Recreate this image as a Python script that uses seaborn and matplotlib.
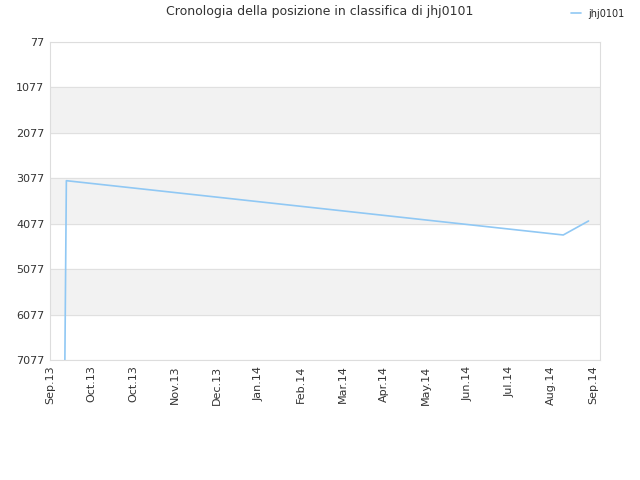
import matplotlib
matplotlib.use("Agg")
import matplotlib.pyplot as plt
import seaborn as sns
import pandas as pd

dates = ["2013-09-11", "2013-09-12", "2014-08-12", "2014-08-29"]
ranks = [7077, 3130, 4325, 4017]
yticks = [77, 1077, 2077, 3077, 4077, 5077, 6077, 7077]
month_labels = ["Sep.13","Oct.13","Oct.13","Nov.13","Dec.13","Jan.14","Feb.14","Mar.14","Apr.14","May.14","Jun.14","Jul.14","Aug.14","Sep.14"]
x_ticks = pd.date_range("2013-09-01", "2014-09-01", periods=len(month_labels))

df = pd.DataFrame({"date": pd.to_datetime(dates), "rank": ranks})

sns.set_style("white")
fig = plt.figure(figsize=(6.4, 4.8), dpi=100)
ax = fig.add_axes([50/640, 1-360/480, 550/640, 318/480])
for i in range(1, 7, 2):
    ax.axhspan(yticks[i], yticks[i+1], color="#f2f2f2", zorder=0)
for y in yticks:
    ax.axhline(y, color="#e0e0e0", lw=0.8, zorder=0.5)
sns.lineplot(data=df, x="date", y="rank", ax=ax, color="#90c8f4", lw=1.2, label="jhj0101", legend=False)
ax.set_ylim(7077, 77)
ax.set_xlim(pd.Timestamp("2013-09-01"), pd.Timestamp("2014-09-05 17:00"))
ax.set_yticks(yticks)
ax.set_yticklabels([str(y) for y in yticks], fontsize=8, color="#333333")
ax.set_xticks(x_ticks)
ax.set_xticklabels(month_labels, rotation=90, fontsize=8, color="#333333")
ax.set_xlabel(""); ax.set_ylabel("")
for s in ax.spines.values():
    s.set_color("#dddddd")
ax.tick_params(length=0, pad=4)
fig.text(0.5, 1-12/480, "Cronologia della posizione in classifica di jhj0101", ha="center", va="center", fontsize=9, color="#333333")
h, l = ax.get_legend_handles_labels()
fig.legend(h, l, loc="upper right", bbox_to_anchor=(0.99, 1.0), frameon=False, fontsize=7, handlelength=1.0)
fig.savefig("out.png", dpi=100)
